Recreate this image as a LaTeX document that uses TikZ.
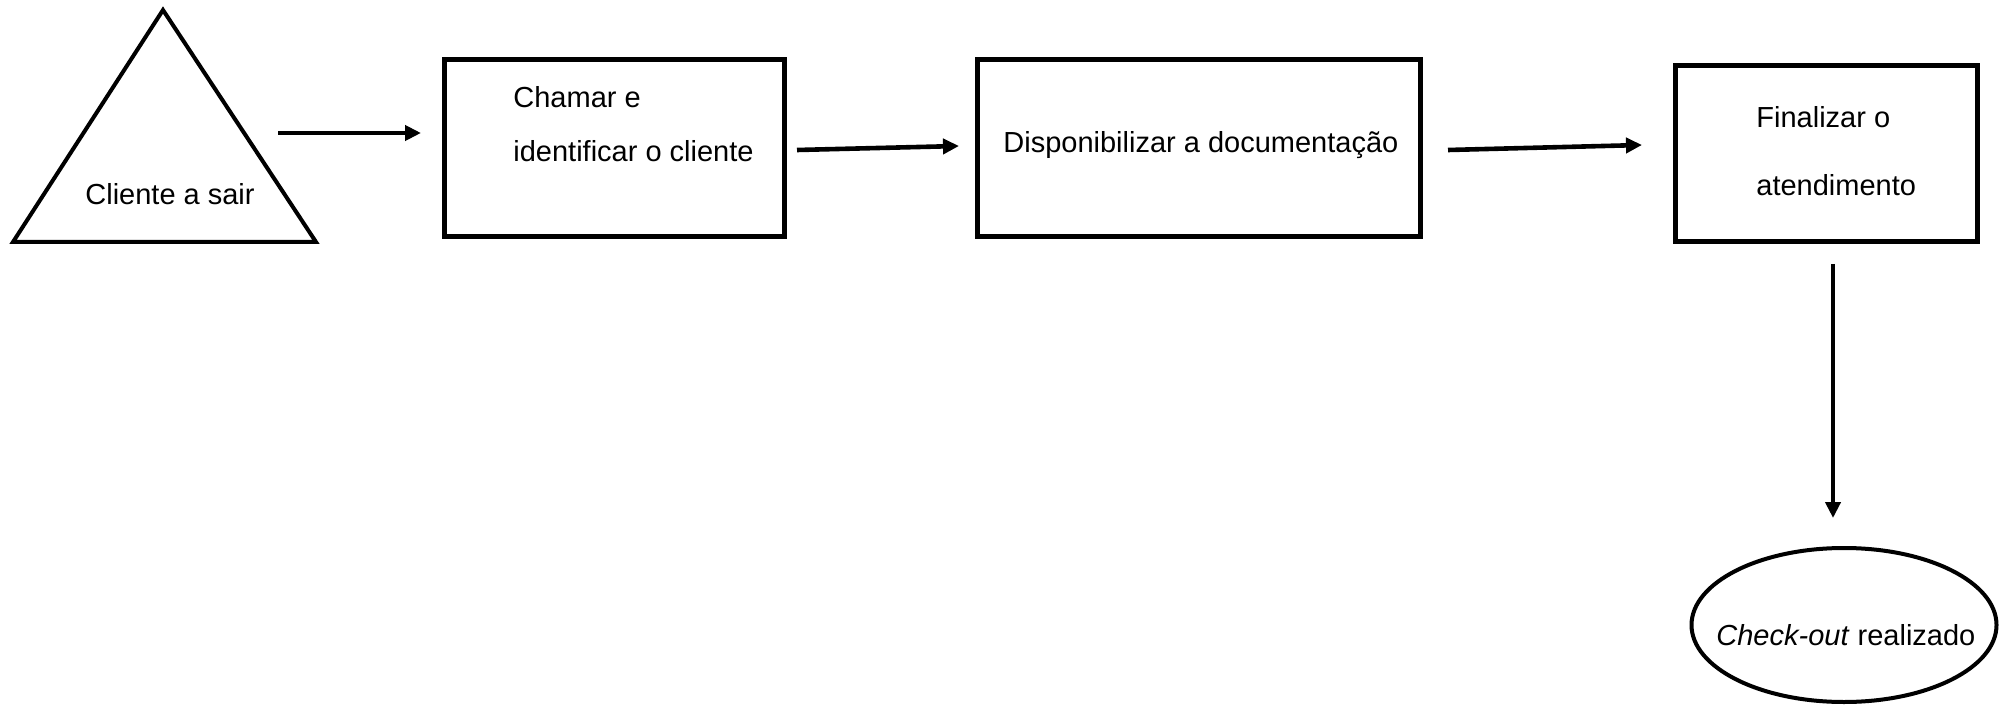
\documentclass[tikz,border=0pt]{standalone}
\usepackage{fontspec}
\setmainfont{Liberation Sans}
\usetikzlibrary{arrows.meta,shapes.geometric}

\tikzset{
  stepbox/.style={draw, line width=2.5pt, inner sep=0pt, minimum width=#1},
  lbl/.style={anchor=base west, inner sep=0pt, font=\fontsize{14.5pt}{17pt}\selectfont},
  flow/.style={line width=2.3pt, -{Triangle[length=8pt,width=7.5pt]}},
}

\begin{document}
\begin{tikzpicture}[x=0.5pt, y=-0.5pt]
  \useasboundingbox (0,0) rectangle (2000,705);

  % start: triangle
  \coordinate (tA) at (163,10);
  \coordinate (tL) at (13,242);
  \coordinate (tR) at (316,242);
  \draw[line width=2pt, line join=miter] (tA) -- (tL) -- (tR) -- cycle;
  \node[lbl] (tt) at (85,204.5) {Cliente a sair};

  % process boxes
  \node[stepbox=170pt, minimum height=88.5pt] (b1) at (614,148.5) {};
  \node[lbl] (b1a) at (513,107.5) {Chamar e};
  \node[lbl] (b1b) at (513,161.5) {identificar o cliente};

  \node[stepbox=221.5pt, minimum height=88.5pt] (b2) at (1198.5,148.5) {};
  \node[lbl] (b2a) at (1003,152.5) {Disponibilizar a documentação};

  \node[stepbox=151pt, minimum height=88pt] (b3) at (1826,154) {};
  \node[lbl] (b3a) at (1756,127.5) {Finalizar o};
  \node[lbl] (b3b) at (1756,195.5) {atendimento};

  % end: ellipse
  \node[draw, ellipse, line width=2pt, inner sep=0pt,
        minimum width=152.5pt, minimum height=77pt] (e) at (1844,625) {};
  \node[lbl] (ea) at (1716,645) {\textit{Check-out} realizado};

  % connectors
  \coordinate (a1s) at (278,133);  \coordinate (a1e) at (421,133);
  \coordinate (a2s) at (797,150);  \coordinate (a2e) at (959,146);
  \coordinate (a3s) at (1448,150); \coordinate (a3e) at (1642,145);
  \coordinate (a4s) at (1833,264); \coordinate (a4e) at (1833,518);
  \draw[flow] (a1s) -- (a1e);
  \draw[flow] (a2s) -- (a2e);
  \draw[flow] (a3s) -- (a3e);
  \draw[flow] (a4s) -- (a4e);
\end{tikzpicture}
\end{document}
